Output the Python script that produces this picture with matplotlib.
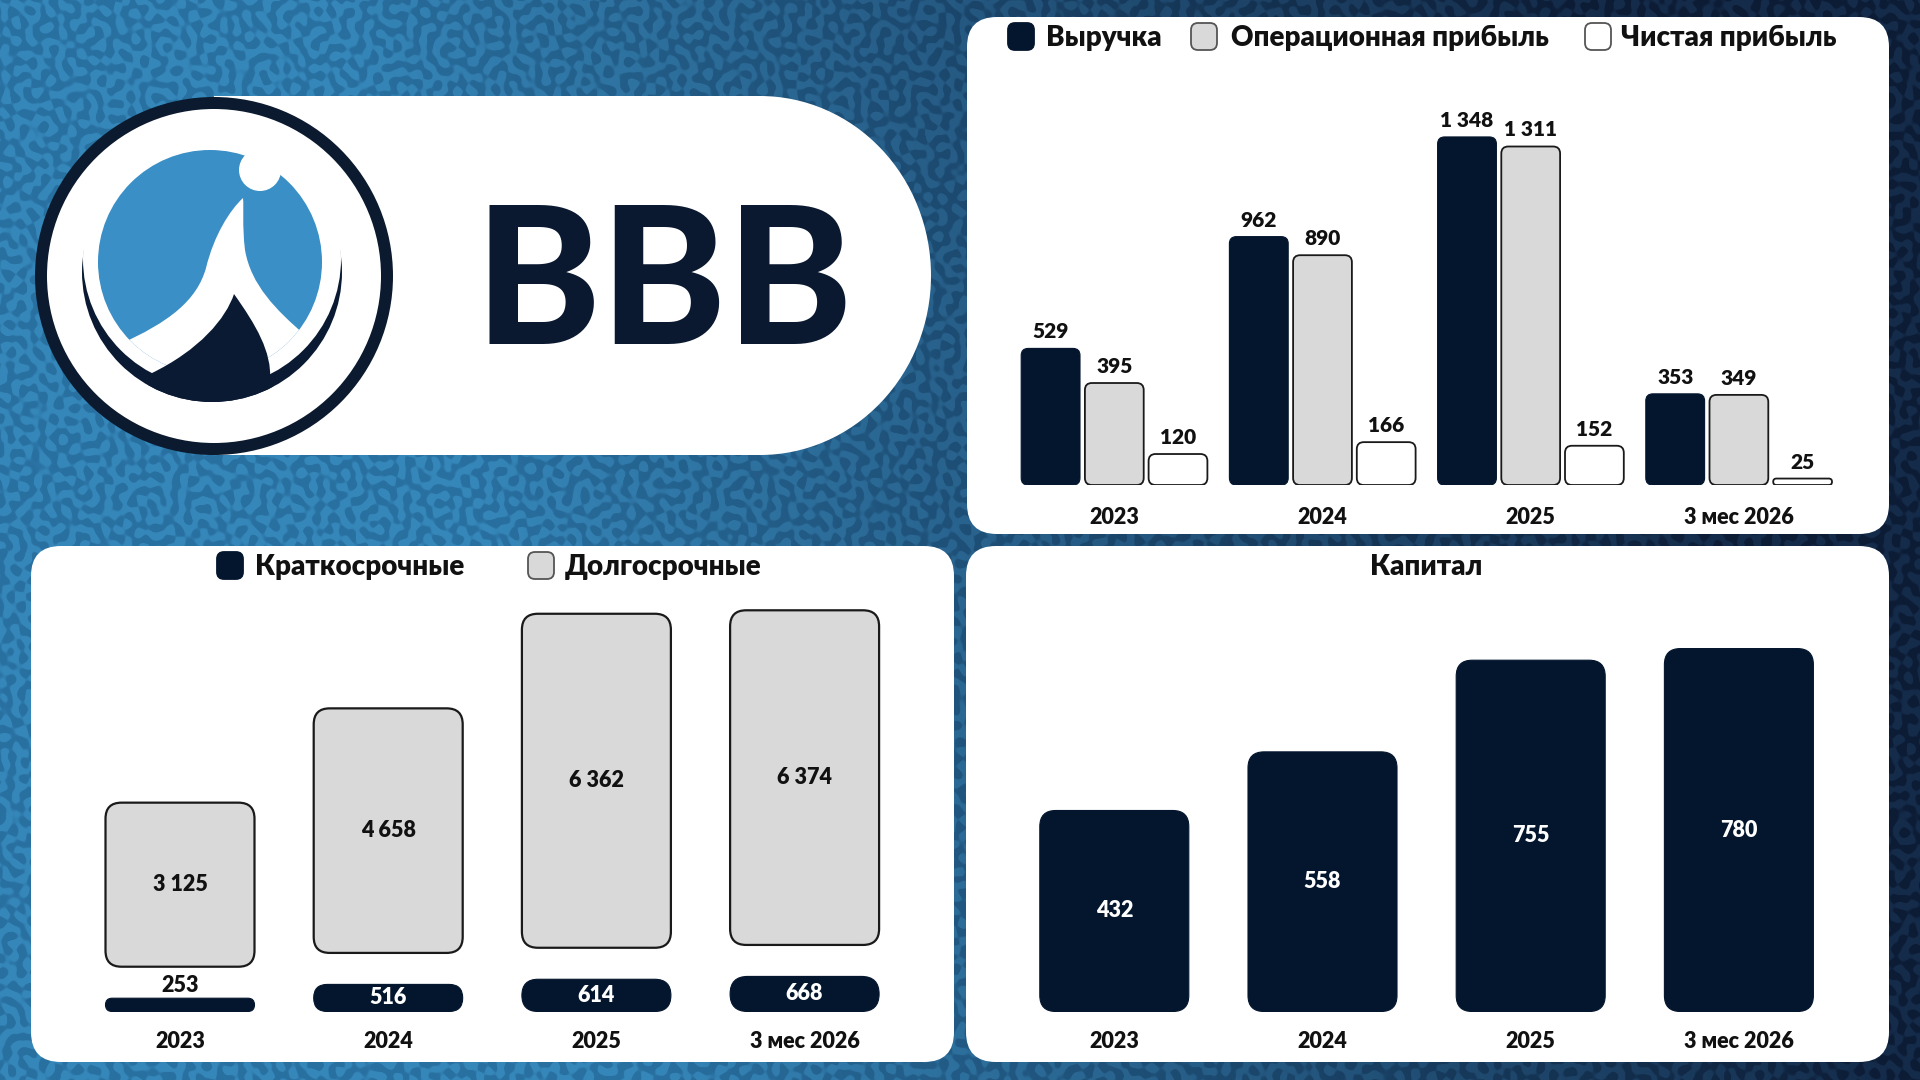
import numpy as np
import matplotlib
matplotlib.use('Agg')
import matplotlib.pyplot as plt
from matplotlib.patches import FancyBboxPatch, Circle, Ellipse, Rectangle, PathPatch
from matplotlib.path import Path

# ---------------- data ----------------
categories = ['2023', '2024', '2025', '3 мес 2026']
revenue = [529, 962, 1348, 353]
op_profit = [395, 890, 1311, 349]
net_profit = [120, 166, 152, 25]
short_debt = [253, 516, 614, 668]
long_debt = [3125, 4658, 6362, 6374]
equity = [432, 558, 755, 780]
legend_top = ['Выручка', 'Операционная прибыль', 'Чистая прибыль']
legend_debt = ['Краткосрочные', 'Долгосрочные']
title_equity = 'Капитал'
brand = 'BBB'

plt.rcParams['font.family'] = ['Lato', 'Open Sans', 'DejaVu Sans']

NAVY = '#04162e'
GREY = '#d9d9d9'
EDGE = '#1a1a1a'
TXT = '#111111'
BLUE = '#3a8fc6'
FW = 'heavy'
W, H = 1920, 1080


def fmt(v):
    return f'{v:,}'.replace(',', ' ')


fig = plt.figure(figsize=(19.2, 10.8), dpi=100)

# ---------------- background ----------------
bg = fig.add_axes([0, 0, 1, 1])
yy, xx = np.mgrid[0:H, 0:W].astype(float)
field = np.zeros((H, W))
golden = np.pi * (3 - np.sqrt(5))
for k in range(22):
    th = k * golden
    lam = 11 + 7 * ((k * 0.618034) % 1)
    kk = 2 * np.pi / lam
    ph = (k * 1.7) % (2 * np.pi)
    field += np.cos(kk * (np.cos(th) * xx + np.sin(th) * yy) + ph)
m = 0.5 + 0.5 * np.tanh(field * 1.2)
g = np.clip((xx - 450) / 1250 + (0.4 - yy / H) * 0.25, 0, 1)[..., None]
m = m[..., None]
light_base = np.array([0.21, 0.53, 0.73])
light_str = np.array([0.16, 0.44, 0.63])
dark_base = np.array([0.08, 0.17, 0.29])
dark_str = np.array([0.05, 0.11, 0.21])
light = (1 - m) * light_base + m * light_str
dark = (1 - m) * dark_base + m * dark_str
img = (1 - g) * light + g * dark
bg.imshow(img, extent=(0, W, H, 0), zorder=0, interpolation='bilinear', aspect='auto')
bg.set_xlim(0, W)
bg.set_ylim(H, 0)
bg.axis('off')


def panel(x0, y0, x1, y1, r=30):
    bg.add_patch(FancyBboxPatch((x0, y0), x1 - x0, y1 - y0,
                                boxstyle=f'round,pad=0,rounding_size={r}',
                                fc='white', ec='none', zorder=2))


panel(967, 17, 1889, 534)
panel(31, 546, 954, 1062)
panel(966, 546, 1889, 1062)

# pill with brand
bg.add_patch(Rectangle((214, 96), 546, 359, fc='white', ec='none', zorder=2))
bg.add_patch(Ellipse((760, 275.5), 342, 359, fc='white', ec='none', zorder=2))
bg.text(664, 344, brand, fontsize=137, fontweight='black', color='#0a1930',
        ha='center', va='baseline', zorder=5)

# logo
bg.add_patch(Circle((214, 276), 179, fc='#0b1a2e', ec='none', zorder=3))
bg.add_patch(Circle((214, 276), 167, fc='white', ec='none', zorder=3))
dark_disk = Circle((212, 272), 130, fc='#0a1a33', ec='none', zorder=4)
bg.add_patch(dark_disk)
bg.add_patch(Circle((212, 259), 129, fc='white', ec='none', zorder=4))
blue_disk = Circle((210, 262), 112, fc=BLUE, ec='none', zorder=4)
bg.add_patch(blue_disk)
C4, L = Path.CURVE4, Path.LINETO
lam_verts = [(243, 198),
             (230, 210), (214, 235), (206, 268),
             (197, 300), (170, 322), (118, 345),
             (110, 430), (330, 430), (305, 335),
             (276, 310), (251, 285), (245, 250),
             (242, 225), (244, 208), (243, 198),
             (0, 0)]
lam_codes = [Path.MOVETO, C4, C4, C4, C4, C4, C4, L, L, L, C4, C4, C4, C4, C4, C4, Path.CLOSEPOLY]
lam_patch = PathPatch(Path(lam_verts, lam_codes), fc='white', ec='none', zorder=4)
bg.add_patch(lam_patch)
lam_patch.set_clip_path(blue_disk)
bg.add_patch(Circle((260, 170), 21, fc='white', ec='none', zorder=4))
mt_verts = [(234, 294),
            (226, 318), (200, 350), (150, 374),
            (140, 420), (290, 420), (270, 380),
            (272, 352), (256, 325), (234, 294),
            (0, 0)]
mt_codes = [Path.MOVETO, C4, C4, C4, L, L, L, C4, C4, C4, Path.CLOSEPOLY]
mt_patch = PathPatch(Path(mt_verts, mt_codes), fc='#0a1a33', ec='none', zorder=4)
bg.add_patch(mt_patch)
mt_patch.set_clip_path(dark_disk)


# legends / titles (pixel coords on background)
def marker(x, y, fc, ec):
    bg.add_patch(FancyBboxPatch((x, y), 26, 27, boxstyle='round,pad=0,rounding_size=7',
                                fc=fc, ec=ec, lw=1.3, zorder=5))


marker(1008, 23, NAVY, NAVY)
marker(1191, 23, GREY, '#555555')
marker(1585, 23, 'white', '#555555')
for tx, s in zip([1046, 1231, 1621], legend_top):
    bg.text(tx, 38, s, fontsize=20, fontweight=FW, color=TXT, ha='left', va='center', zorder=5)

marker(217, 552, NAVY, NAVY)
marker(528, 552, GREY, '#555555')
for tx, s in zip([255, 565], legend_debt):
    bg.text(tx, 567, s, fontsize=20, fontweight=FW, color=TXT, ha='left', va='center', zorder=5)

bg.text(1426, 567, title_equity, fontsize=20, fontweight=FW, color=TXT,
        ha='center', va='center', zorder=5)


# ---------------- chart axes ----------------
def px_axes(l, t, r, b, c0, pitch, ppy):
    ax = fig.add_axes([l / W, 1 - b / H, (r - l) / W, (b - t) / H])
    ax.set_xlim((l - c0) / pitch, (r - c0) / pitch)
    ax.set_ylim(0, (b - t) / ppy)
    ax.axis('off')
    ax.patch.set_alpha(0)
    return ax


def rounded(ax, bars, r_px, ec='none', lw=0.0):
    pos = ax.get_position()
    x0, x1 = ax.get_xlim()
    y0, y1 = ax.get_ylim()
    ppx = pos.width * W / (x1 - x0)
    ppy = pos.height * H / (y1 - y0)
    a = ppx / ppy
    for b in bars:
        x, y = b.get_xy()
        w, h = b.get_width(), b.get_height()
        fc = b.get_facecolor()
        b.remove()
        r = min(r_px, w * ppx / 2, h * ppy / 2) / ppx
        ax.add_patch(FancyBboxPatch((x, y), w, h, boxstyle=f'round,pad=0,rounding_size={r}',
                                    mutation_aspect=a, fc=fc, ec=ec, lw=lw, zorder=3))


x = np.arange(len(categories))
pitch = 208.2
bw_big = 149 / pitch

# Top-right: revenue / profits
ax1 = px_axes(975, 60, 1880, 485, 1114.3, pitch, 0.2582)
off = 63.7 / pitch
bw = 58.8 / pitch
b1 = ax1.bar(x - off, revenue, bw, color=NAVY)
b2 = ax1.bar(x, op_profit, bw, color=GREY)
b3 = ax1.bar(x + off, net_profit, bw, color='white')
for xs, vals in [(x - off, revenue), (x, op_profit), (x + off, net_profit)]:
    for xi, v in zip(xs, vals):
        ax1.annotate(fmt(v), (xi, v), xytext=(0, 7), textcoords='offset pixels',
                     ha='center', va='bottom', fontsize=15, fontweight=FW, color=TXT)
rounded(ax1, b1, 7, NAVY, 0.8)
rounded(ax1, b2, 7, EDGE, 1.3)
rounded(ax1, b3, 7, EDGE, 1.3)
for xi, c in zip(x, categories):
    ax1.annotate(c, (xi, 0), xytext=(0, -32), textcoords='offset pixels',
                 ha='center', va='center', fontsize=15.5, fontweight=FW, color=TXT)

# Bottom-left: debt
GAP = 600
ppy2 = 0.0525
ax2 = px_axes(40, 590, 945, 1011.5, 180.0, pitch, ppy2)
d1 = ax2.bar(x, short_debt, bw_big, color=NAVY)
d2 = ax2.bar(x, long_debt, bw_big, bottom=np.array(short_debt) + GAP, color=GREY)
for xi, s, l in zip(x, short_debt, long_debt):
    ax2.text(xi, s + GAP + l / 2, fmt(l), ha='center', va='center', fontsize=15.5,
             fontweight=FW, color=TXT, zorder=5)
    if s * ppy2 < 22:
        ax2.annotate(fmt(s), (xi, s), xytext=(0, 2), textcoords='offset pixels',
                     ha='center', va='bottom', fontsize=15.5, fontweight=FW, color=TXT)
    else:
        ax2.text(xi, s / 2, fmt(s), ha='center', va='center', fontsize=15.5,
                 fontweight=FW, color='white', zorder=5)
rounded(ax2, d1, 18, NAVY, 0.8)
rounded(ax2, d2, 16, EDGE, 1.6)
for xi, c in zip(x, categories):
    ax2.annotate(c, (xi, 0), xytext=(0, -30), textcoords='offset pixels',
                 ha='center', va='center', fontsize=15.5, fontweight=FW, color=TXT)

# Bottom-right: equity
ax3 = px_axes(975, 590, 1880, 1011.5, 1114.3, pitch, 0.4653)
e1 = ax3.bar(x, equity, bw_big, color=NAVY)
for xi, v in zip(x, equity):
    ax3.text(xi, v / 2, fmt(v), ha='center', va='center', fontsize=15.5,
             fontweight=FW, color='white', zorder=5)
rounded(ax3, e1, 16, NAVY, 0.8)
for xi, c in zip(x, categories):
    ax3.annotate(c, (xi, 0), xytext=(0, -30), textcoords='offset pixels',
                 ha='center', va='center', fontsize=15.5, fontweight=FW, color=TXT)

fig.savefig('out.png', dpi=100)
